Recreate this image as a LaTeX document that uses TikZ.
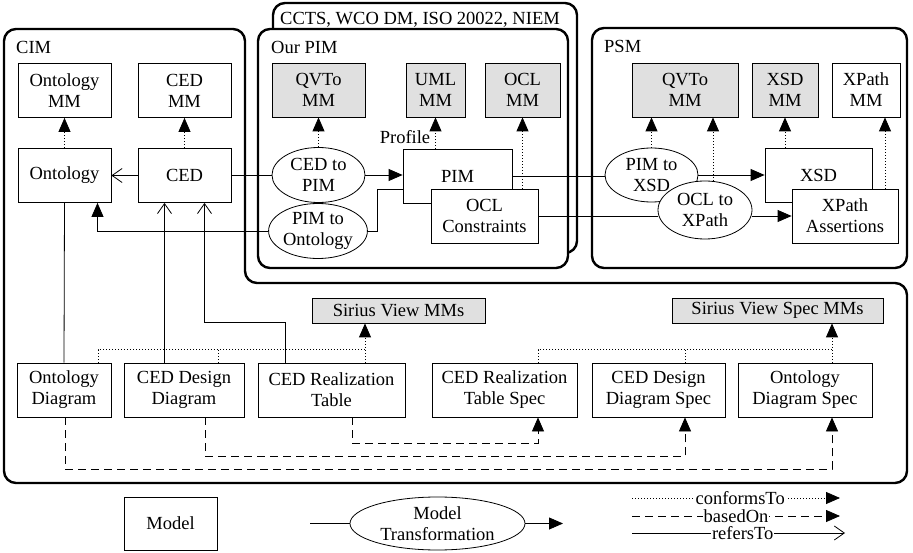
\documentclass[tikz,border=0pt]{standalone}
\usepackage{fontspec}
\setmainfont{Liberation Serif}
\usetikzlibrary{arrows.meta,shapes.geometric,calc}
\tikzset{
  mbox/.style={draw, line width=0.8pt, fill=white, align=center, inner sep=1pt, minimum height=54pt},
  mmbox/.style={mbox, fill=black!12},
  trafo/.style={draw, ellipse, line width=0.8pt, fill=white, align=center, inner sep=0pt},
  frame/.style={line width=2.4pt, rounded corners=12pt},
  conf/.style={line width=0.8pt, dash pattern=on 1pt off 2pt, -{Triangle[length=14pt,width=12pt]}},
  dotl/.style={line width=0.8pt, dash pattern=on 1pt off 2pt},
  based/.style={line width=0.8pt, dash pattern=on 8pt off 5pt, -{Triangle[length=14pt,width=12pt]}},
  refto/.style={line width=0.8pt, -{Straight Barb[length=10pt,width=14pt]}},
  trans/.style={line width=0.8pt, -{Triangle[length=14pt,width=12pt]}},
  plain/.style={line width=0.8pt},
  lbl/.style={anchor=base west, inner sep=0pt},
  leg/.style={fill=white, inner sep=1pt},
}
\begin{document}
\begin{tikzpicture}[x=1pt,y=-1pt,font=\fontsize{18.5}{21}\selectfont]
\useasboundingbox (0,0) rectangle (913,553);

% frames
\draw[frame] (100,29) -- (245,29) -- (245,283) -- (907,283) -- (907,483) -- (4,483) -- (4,29) -- cycle;
\draw[frame, fill=white] (273,3) rectangle (577,253);
\draw[frame, fill=white] (258,29) rectangle (568,268);
\draw[frame] (592,28) rectangle (907,268);
\node[lbl] (cimlbl) at (16,54) {CIM};
\node[lbl] (stdlbl) at (280,25) {CCTS, WCO DM, ISO 20022, NIEM};
\node[lbl] (pimlbl) at (271,54) {Our PIM};
\node[lbl] (psmlbl) at (604,53) {PSM};

% CIM nodes
\node[mbox, minimum width=93pt] (ontomm) at (64.5,90.5) {Ontology\\MM};
\node[mbox, minimum width=93pt] (cedmm) at (184.5,90.5) {CED\\MM};
\node[mbox, minimum width=93pt] (onto) at (64.5,175.5) {Ontology};
\node[mbox, minimum width=93pt] (ced) at (184.5,175.5) {CED};

% Our PIM nodes
\node[mmbox, minimum width=93pt] (qvto1) at (318.5,90) {QVTo\\MM};
\node[mmbox, minimum width=59pt] (umlmm) at (435.5,90) {UML\\MM};
\node[mmbox, minimum width=75pt] (oclmm) at (522.5,90) {OCL\\MM};
\node[trafo, minimum width=96pt, minimum height=55pt] (pimtoonto) at (318,231) {PIM to\\Ontology};
\node[trafo, minimum width=93pt, minimum height=55pt] (cedtopim) at (318.5,175) {CED to\\PIM};
\node[mbox, minimum width=109pt] (pim) at (457.5,176) {PIM};
\node[mbox, minimum width=107pt] (oclc) at (484.5,216) {OCL\\Constraints};
\node[inner sep=0pt] (proflbl) at (405,137) {Profile};

% PSM nodes
\node[mmbox, minimum width=106pt] (qvto2) at (685,90) {QVTo\\MM};
\node[mmbox, minimum width=66pt] (xsdmm) at (785,90) {XSD\\MM};
\node[mbox, minimum width=68pt] (xpathmm) at (866,90) {XPath\\MM};
\node[trafo, minimum width=93pt, minimum height=54pt] (pimtoxsd) at (651.5,175) {PIM to\\XSD};
\node[trafo, minimum width=94pt, minimum height=58pt] (ocltox) at (705,210) {OCL to\\XPath};
\node[mbox, minimum width=107pt] (xsd) at (818.5,175.5) {XSD};
\node[mbox, minimum width=106pt] (xpa) at (845,216) {XPath\\Assertions};

% bottom nodes
\node[mmbox, minimum width=173pt, minimum height=25pt] (svmm) at (398.5,310.5) {Sirius View MMs};
\node[mmbox, minimum width=211pt, minimum height=25pt] (svsmm) at (777.5,310.5) {Sirius View Spec MMs};
\node[mbox, minimum width=94pt] (ontod) at (64,390) {Ontology\\Diagram};
\node[mbox, minimum width=120pt] (ceddd) at (184,390) {CED Design\\Diagram};
\node[mbox, minimum width=147pt] (cedrt) at (331.5,390) {CED Realization\\Table};
\node[mbox, minimum width=145pt] (cedrts) at (504.5,390) {CED Realization\\Table Spec};
\node[mbox, minimum width=133pt] (cedds) at (658.5,390) {CED Design\\Diagram Spec};
\node[mbox, minimum width=134pt] (ods) at (805,390) {Ontology\\Diagram Spec};

% legend nodes
\node[mbox, minimum width=93pt, minimum height=53pt] (model) at (170.5,523.5) {Model};
\node[trafo, minimum width=175pt, minimum height=53pt] (mt) at (437.5,523.5) {Model\\Transformation};
\coordinate (lt0) at (310,523.5);
\coordinate (lt1) at (563,523.5);
\coordinate (la0) at (632,498);
\coordinate (la1) at (840,498);
\coordinate (lb0) at (632,516);
\coordinate (lb1) at (840,516);
\coordinate (lc0) at (632,533);
\coordinate (lc1) at (845,533);

% CIM connectors
\draw[conf] (onto) -- (ontomm);
\draw[conf] (ced) -- (cedmm);
\draw[refto] (ced) -- (onto);
\draw[plain] (onto.south) -- (ontod.north);
\draw[refto] ([xshift=-19.5pt]ceddd.north) -- ([xshift=-19.5pt]ceddd.north |- ced.south);
\coordinate (rtbend) at (204.5,322);
\draw[refto] ([xshift=-46.5pt]cedrt.north) |- (rtbend) -- ([xshift=20pt]ced.south);

% PIM connectors
\draw[plain] (ced.east) -- (ced.east -| cedtopim.west);
\draw[trans] (cedtopim.east) -- (cedtopim.east -| pim.west);
\draw[conf] (cedtopim.north) -- (qvto1.south);
\draw[conf] (umlmm.south |- pim.north) -- (umlmm.south);
\draw[conf] (oclmm.south |- oclc.north) -- (oclmm.south);
\draw[plain] ([yshift=-13pt]pim.west) -- ++(-25,0) |- (pimtoonto.east);
\draw[trans] (pimtoonto.west) -| ([xshift=33pt]onto.south);

% PSM connectors
\draw[plain] (pim.east) -- (pim.east -| pimtoxsd.west);
\draw[trans] (pimtoxsd.east) -- (pimtoxsd.east -| xsd.west);
\draw[plain] (oclc.east) -- (oclc.east -| ocltox.west);
\draw[trans] (oclc.east -| ocltox.east) -- (oclc.east -| xpa.west);
\draw[conf] (pimtoxsd.north) -- (pimtoxsd.north |- qvto2.south);
\coordinate (oxtop) at ([xshift=8pt,yshift=-0.6pt]ocltox.north);
\draw[conf] (oxtop) -- (oxtop |- qvto2.south);
\draw[conf] (xsdmm.south |- xsd.north) -- (xsdmm.south);
\coordinate (xpatop) at ([xshift=40pt]xpa.north);
\draw[conf] (xpatop) -- (xpatop |- xpathmm.south);

% bottom conformsTo
\draw[conf] ([xshift=34pt]ontod.north) -- ++(0,-13) -| ([xshift=-33.5pt]svmm.south);
\draw[dotl] ([xshift=34pt]ceddd.north) -- ++(0,-13);
\draw[dotl] ([xshift=33.5pt]cedrt.north) -- ++(0,-13);
\draw[conf] ([xshift=33.5pt]cedrts.north) -- ++(0,-13) -| ([xshift=54.5pt]svsmm.south);
\draw[dotl] ([xshift=26.5pt]cedds.north) -- ++(0,-13);
\draw[dotl] ([xshift=27pt]ods.north) -- ++(0,-13);

% bottom basedOn
\draw[based] ([xshift=20.5pt]cedrt.south) -- ++(0,26) -| ([xshift=33.5pt]cedrts.south);
\draw[based] ([xshift=21pt]ceddd.south) -- ++(0,39) -| ([xshift=26.5pt]cedds.south);
\draw[based] ([xshift=1pt]ontod.south) -- ++(0,52) -| ([xshift=27pt]ods.south);

% legend connectors
\draw[plain] (lt0) -- (mt.west);
\draw[trans] (mt.east) -- (lt1);
\draw[conf] (la0) -- (la1) node[leg, pos=0.52] {conformsTo};
\draw[based] (lb0) -- (lb1) node[leg, pos=0.5] {basedOn};
\draw[refto] (lc0) -- (lc1) node[leg, pos=0.52] {refersTo};
\end{tikzpicture}
\end{document}
